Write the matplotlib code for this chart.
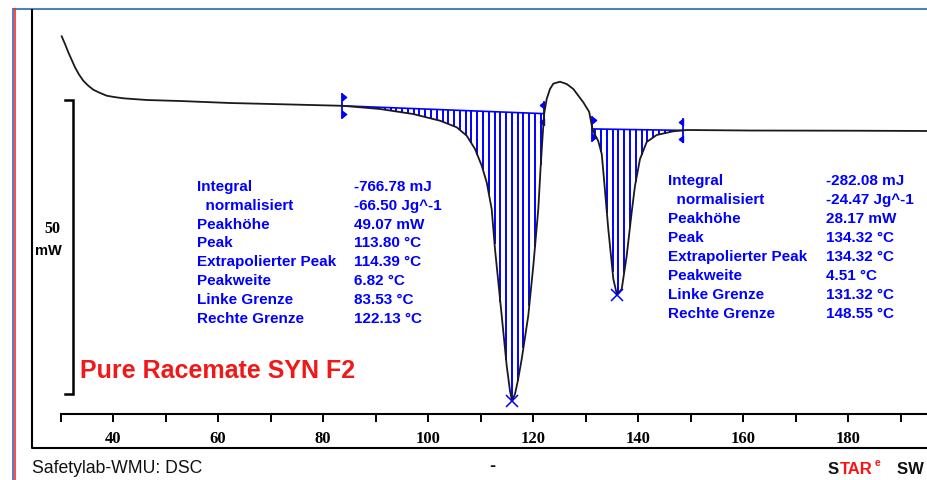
import matplotlib.pyplot as plt
import numpy as np

W, H, DPI = 928, 481, 100

# ---- DSC curve: heat flow (mW) vs temperature (°C) ----
temp = [30.23, 30.86, 31.49, 32.76, 33.52, 34.34, 35.24, 36.25, 37.33, 38.80,
        40.19, 41.96, 46.42, 52.76, 62.29,
        73.71, 83.87, 90.86, 97.14, 102.29, 105.47, 107.37, 108.95, 110.23, 111.18,
        112.13, 112.76, 114.04, 114.99, 115.62, 116.00, 116.57, 117.14, 117.85, 119.10,
        120.06, 121.01, 121.43, 121.80, 122.13, 122.61, 123.24, 123.87, 125.14, 126.42,
        127.68, 129.58, 130.70, 131.32, 131.81, 132.44, 133.09, 133.52, 134.34, 135.30,
        136.00, 136.90, 137.85, 138.80, 139.43, 140.38, 141.66, 143.56, 146.72, 149.28,
        161.33, 180.38, 195.60]
heat_flow = [11.85, 10.54, 9.13, 6.58, 5.36, 4.30, 3.49, 2.77, 2.30, 1.75,
             1.53, 1.31, 1.02, 0.85, 0.51,
             0.26, 0.03, -0.51, -1.36, -2.50, -3.62, -5.05, -7.31, -10.15, -12.98,
             -17.52, -24.32, -35.66, -44.17, -48.47, -50.15, -48.98, -46.60, -43.03, -35.66,
             -27.16, -17.52, -10.71, -5.50, -1.30, 1.20, 2.90, 3.80, 4.13, 3.74,
             2.89, 0.63, -1.00, -3.90, -4.90, -6.00, -8.16, -12.41, -20.92, -29.42,
             -32.14, -31.12, -25.46, -18.03, -13.55, -9.01, -6.12, -4.93, -4.30, -4.08,
             -4.17, -4.20, -4.25]

# ---- peak evaluation results ----
row_names = ["Integral", "  normalisiert", "Peakhöhe", "Peak", "Extrapolierter Peak",
             "Peakweite", "Linke Grenze", "Rechte Grenze"]
row_units = ["mJ", "Jg^-1", "mW", "°C", "°C", "°C", "°C", "°C"]
peak1_values = [-766.78, -66.50, 49.07, 113.80, 114.39, 6.82, 83.53, 122.13]
peak2_values = [-282.08, -24.47, 28.17, 134.32, 134.32, 4.51, 131.32, 148.55]

major_ticks = [40, 60, 80, 100, 120, 140, 160, 180]
minor_ticks = [30, 50, 70, 90, 110, 130, 150, 170, 190]
scale_bar_mw = 50

# ---- style ----
CURVE_C, EVAL_C, TITLE_C = '#1a1a1a', '#0000ff', '#f01818'
FRAME_BLUE, FRAME_RED = '#4f81bd', '#ff2a2a'
HATCH_STEP = 1.1

fig = plt.figure(figsize=(W / DPI, H / DPI), dpi=DPI)

# background layer in pixel units for the frame and the texts
deco = fig.add_axes([0, 0, 1, 1], zorder=0)
deco.set_xlim(0, W); deco.set_ylim(H, 0); deco.axis('off')
deco.plot([12, W], [9.8, 9.8], color=FRAME_BLUE, lw=1.5, solid_capstyle='butt')
deco.plot([12.6, 12.6], [9, H], color=FRAME_BLUE, lw=1.4, solid_capstyle='butt')
deco.plot([14.8, 14.8], [9, H], color=FRAME_RED, lw=1.2, solid_capstyle='butt')
deco.plot([32.4, 32.4, W], [10, 449, 449], color='black', lw=1.5, solid_capstyle='butt')

ax = fig.add_axes([32 / W, (H - 449) / H, (W - 32) / W, (449 - 10) / H], zorder=1)
ax.patch.set_visible(False)
ax.set_xlim(24.571, 195.238)
ax.set_ylim(-58.163, 16.497)
for side in ['left', 'right', 'top']:
    ax.spines[side].set_visible(False)
ax.spines['bottom'].set_position(('axes', 34 / 439))
ax.spines['bottom'].set_bounds(30, 196)
ax.spines['bottom'].set_linewidth(1.5)
ax.set_yticks([])
ax.set_xticks(major_ticks)
ax.set_xticks(minor_ticks, minor=True)
ax.tick_params(axis='x', which='both', direction='out', length=5.8, width=1.4, pad=6)
for lbl in ax.get_xticklabels():
    lbl.set_fontfamily('Liberation Serif'); lbl.set_fontweight('bold'); lbl.set_fontsize(12)

T = np.array(temp)
hf = np.array(heat_flow)

# integration areas: baseline between the limits, hatched down to the curve
for vals in (peak1_values, peak2_values):
    t_lo, t_hi = vals[6], vals[7]
    b_lo, b_hi = np.interp([t_lo, t_hi], T, hf)
    ax.plot([t_lo, t_hi], [b_lo, b_hi], color=EVAL_C, lw=1.2, zorder=3)
    xs = np.arange(t_lo + HATCH_STEP / 2, t_hi, HATCH_STEP)
    base = np.interp(xs, [t_lo, t_hi], [b_lo, b_hi])
    curve = np.minimum(np.interp(xs, T, hf), base)
    ax.vlines(xs, curve, base, color=EVAL_C, lw=1.4, zorder=2)
    # limit markers
    for t, b, d in ((t_lo, b_lo, 1), (t_hi, b_hi, -1)):
        ax.plot([t, t], [b - 2.0, b + 2.0], color=EVAL_C, lw=1.3, zorder=3)
        tri = [(0, -1), (0, 1), (d * 1.3, 0), (0, -1)]
        ax.plot([t, t], [b + 1.45, b - 1.45], ls='none', marker=tri, ms=6,
                color=EVAL_C, zorder=3)
    # peak minimum
    seg = (T >= t_lo) & (T <= t_hi)
    i_min = np.argmin(hf[seg])
    ax.plot(T[seg][i_min], hf[seg][i_min], marker='x', ms=8.5, mew=1.1,
            color=EVAL_C, zorder=4)

ax.plot(T, hf, color=CURVE_C, lw=1.3, zorder=3)

# 50 mW scale bar
bar_x, bar_top = 32.4, 1.0
ax.plot([30.9, bar_x, bar_x, 30.9], [bar_top, bar_top, bar_top - scale_bar_mw,
        bar_top - scale_bar_mw], color='black', lw=1.8, solid_joinstyle='miter', zorder=3)
deco.text(52.5, 229, str(scale_bar_mw), ha='center', va='center',
          family='Liberation Serif', weight='bold', fontsize=11.5)
deco.text(48, 251, 'mW', ha='center', va='center',
          family='Liberation Sans', weight='bold', fontsize=10.5)

# evaluation tables
tab = dict(color=EVAL_C, family='Liberation Sans', weight='bold', fontsize=11,
           va='baseline')
for vals, x_name, x_val, y0 in ((peak1_values, 197, 354.5, 190.7),
                                (peak2_values, 668, 825.7, 185.0)):
    for i, (name, v, unit) in enumerate(zip(row_names, vals, row_units)):
        y = y0 + i * 18.93
        deco.text(x_name, y, name, **tab)
        deco.text(x_val, y, f"{v:.2f} {unit}", **tab)

deco.text(80, 377.7, 'Pure Racemate SYN F2', color=TITLE_C, family='Liberation Sans',
          weight='bold', fontsize=18, va='baseline')

# footer
foot = dict(family='Liberation Sans', va='baseline')
deco.text(32, 473.3, 'Safetylab-WMU: DSC', color='#111111', fontsize=12.7, **foot)
deco.text(492, 471, '-', color='#111111', ha='center', weight='bold', fontsize=13, **foot)
deco.text(828, 474, 'S', color='#111111', weight='bold', fontsize=12, **foot)
deco.text(839.5, 474, 'TAR', color='#ff1010', weight='bold', fontsize=12, **foot)
deco.text(874.5, 466, 'e', color='#ff1010', weight='bold', fontsize=7.5, **foot)
deco.text(897, 474, 'SW 9.01', color='#111111', weight='bold', fontsize=12, **foot)

fig.savefig('out.png', dpi=DPI)
